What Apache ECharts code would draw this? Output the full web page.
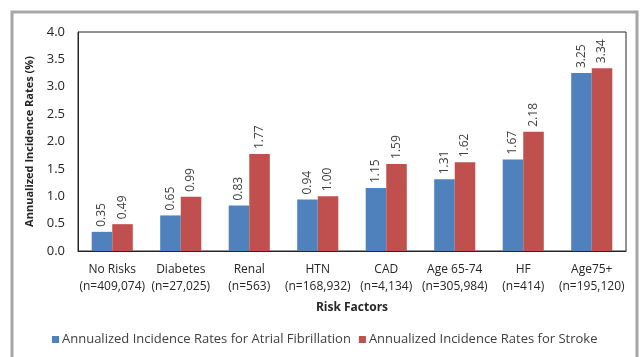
<!DOCTYPE html>
<html>
<head>
<meta charset="utf-8">
<script src="https://cdn.jsdelivr.net/npm/echarts@6/dist/echarts.min.js"></script>
<style>
html, body { margin: 0; padding: 0; background: #fff; }
#main { width: 641px; height: 357px; }
</style>
</head>
<body>
<div id="main"></div>
<script>
// risk factor categories (two-line axis labels)
var categories = ['No Risks\n(n=409,074)', 'Diabetes\n(n=27,025)', 'Renal\n(n=563)', 'HTN\n(n=168,932)',
	'CAD\n(n=4,134)', 'Age 65-74\n(n=305,984)', 'HF\n(n=414)', 'Age75+\n(n=195,120)'];
var afRates = [0.35, 0.65, 0.83, 0.94, 1.15, 1.31, 1.67, 3.25];
var strokeRates = [0.49, 0.99, 1.77, 1.00, 1.59, 1.62, 2.18, 3.34];
var seriesNames = ['Annualized Incidence Rates for Atrial Fibrillation', 'Annualized Incidence Rates for Stroke'];

var FONT = 'Open Sans';

function barLabel() {
	return {
		show: true,
		position: 'top',
		rotate: 90,
		align: 'left',
		verticalAlign: 'middle',
		distance: 5,
		fontFamily: FONT,
		fontSize: 12,
		color: '#404040',
		formatter: function (p) { return p.value.toFixed(2); }
	};
}

var myChart = echarts.init(document.getElementById('main'));
var option = {
	animation: false,
	textStyle: { fontFamily: FONT },
	color: ['#4F81BD', '#C0504D'],
	// grey frame round the chart
	graphic: [{
		type: 'rect',
		shape: { x: 12, y: 12, width: 625, height: 400 },
		style: { fill: 'none', stroke: '#a6a6a6', lineWidth: 3 },
		silent: true
	}],
	grid: {
		left: 78, right: 15, top: 32, bottom: 106,
		show: true,
		borderColor: '#262626',
		borderWidth: 1
	},
	legend: {
		data: seriesNames,
		bottom: 6,
		left: 47,
		itemWidth: 7,
		itemHeight: 7,
		itemGap: 8,
		icon: 'rect',
		textStyle: { fontFamily: FONT, fontSize: 13, color: '#404040', padding: [0, 0, 0, -2] }
	},
	xAxis: {
		type: 'category',
		data: categories,
		name: 'Risk Factors',
		nameLocation: 'middle',
		nameGap: 51,
		nameTextStyle: { fontFamily: FONT, fontSize: 12, fontWeight: 'bold', color: '#262626' },
		axisLine: { lineStyle: { color: '#262626' } },
		axisTick: { show: false },
		axisLabel: { interval: 0, margin: 10, fontSize: 12, lineHeight: 17, color: '#262626' }
	},
	yAxis: {
		type: 'value',
		min: 0, max: 4, interval: 0.5,
		name: 'Annualized Incidence Rates (%)',
		nameLocation: 'middle',
		nameGap: 35,
		nameTextStyle: { fontFamily: FONT, fontSize: 11, fontWeight: 'bold', color: '#262626' },
		axisLine: { show: true, lineStyle: { color: '#262626' } },
		axisTick: { show: false },
		splitLine: { show: false },
		axisLabel: {
			fontSize: 13, color: '#262626', margin: 13,
			formatter: function (v) { return v.toFixed(1); }
		}
	},
	series: [{
		name: seriesNames[0],
		type: 'bar',
		data: afRates,
		barGap: '0%',
		barCategoryGap: '40%',
		label: barLabel()
	}, {
		name: seriesNames[1],
		type: 'bar',
		data: strokeRates,
		barGap: '0%',
		barCategoryGap: '40%',
		label: barLabel()
	}]
};
myChart.setOption(option);
</script>
</body>
</html>
